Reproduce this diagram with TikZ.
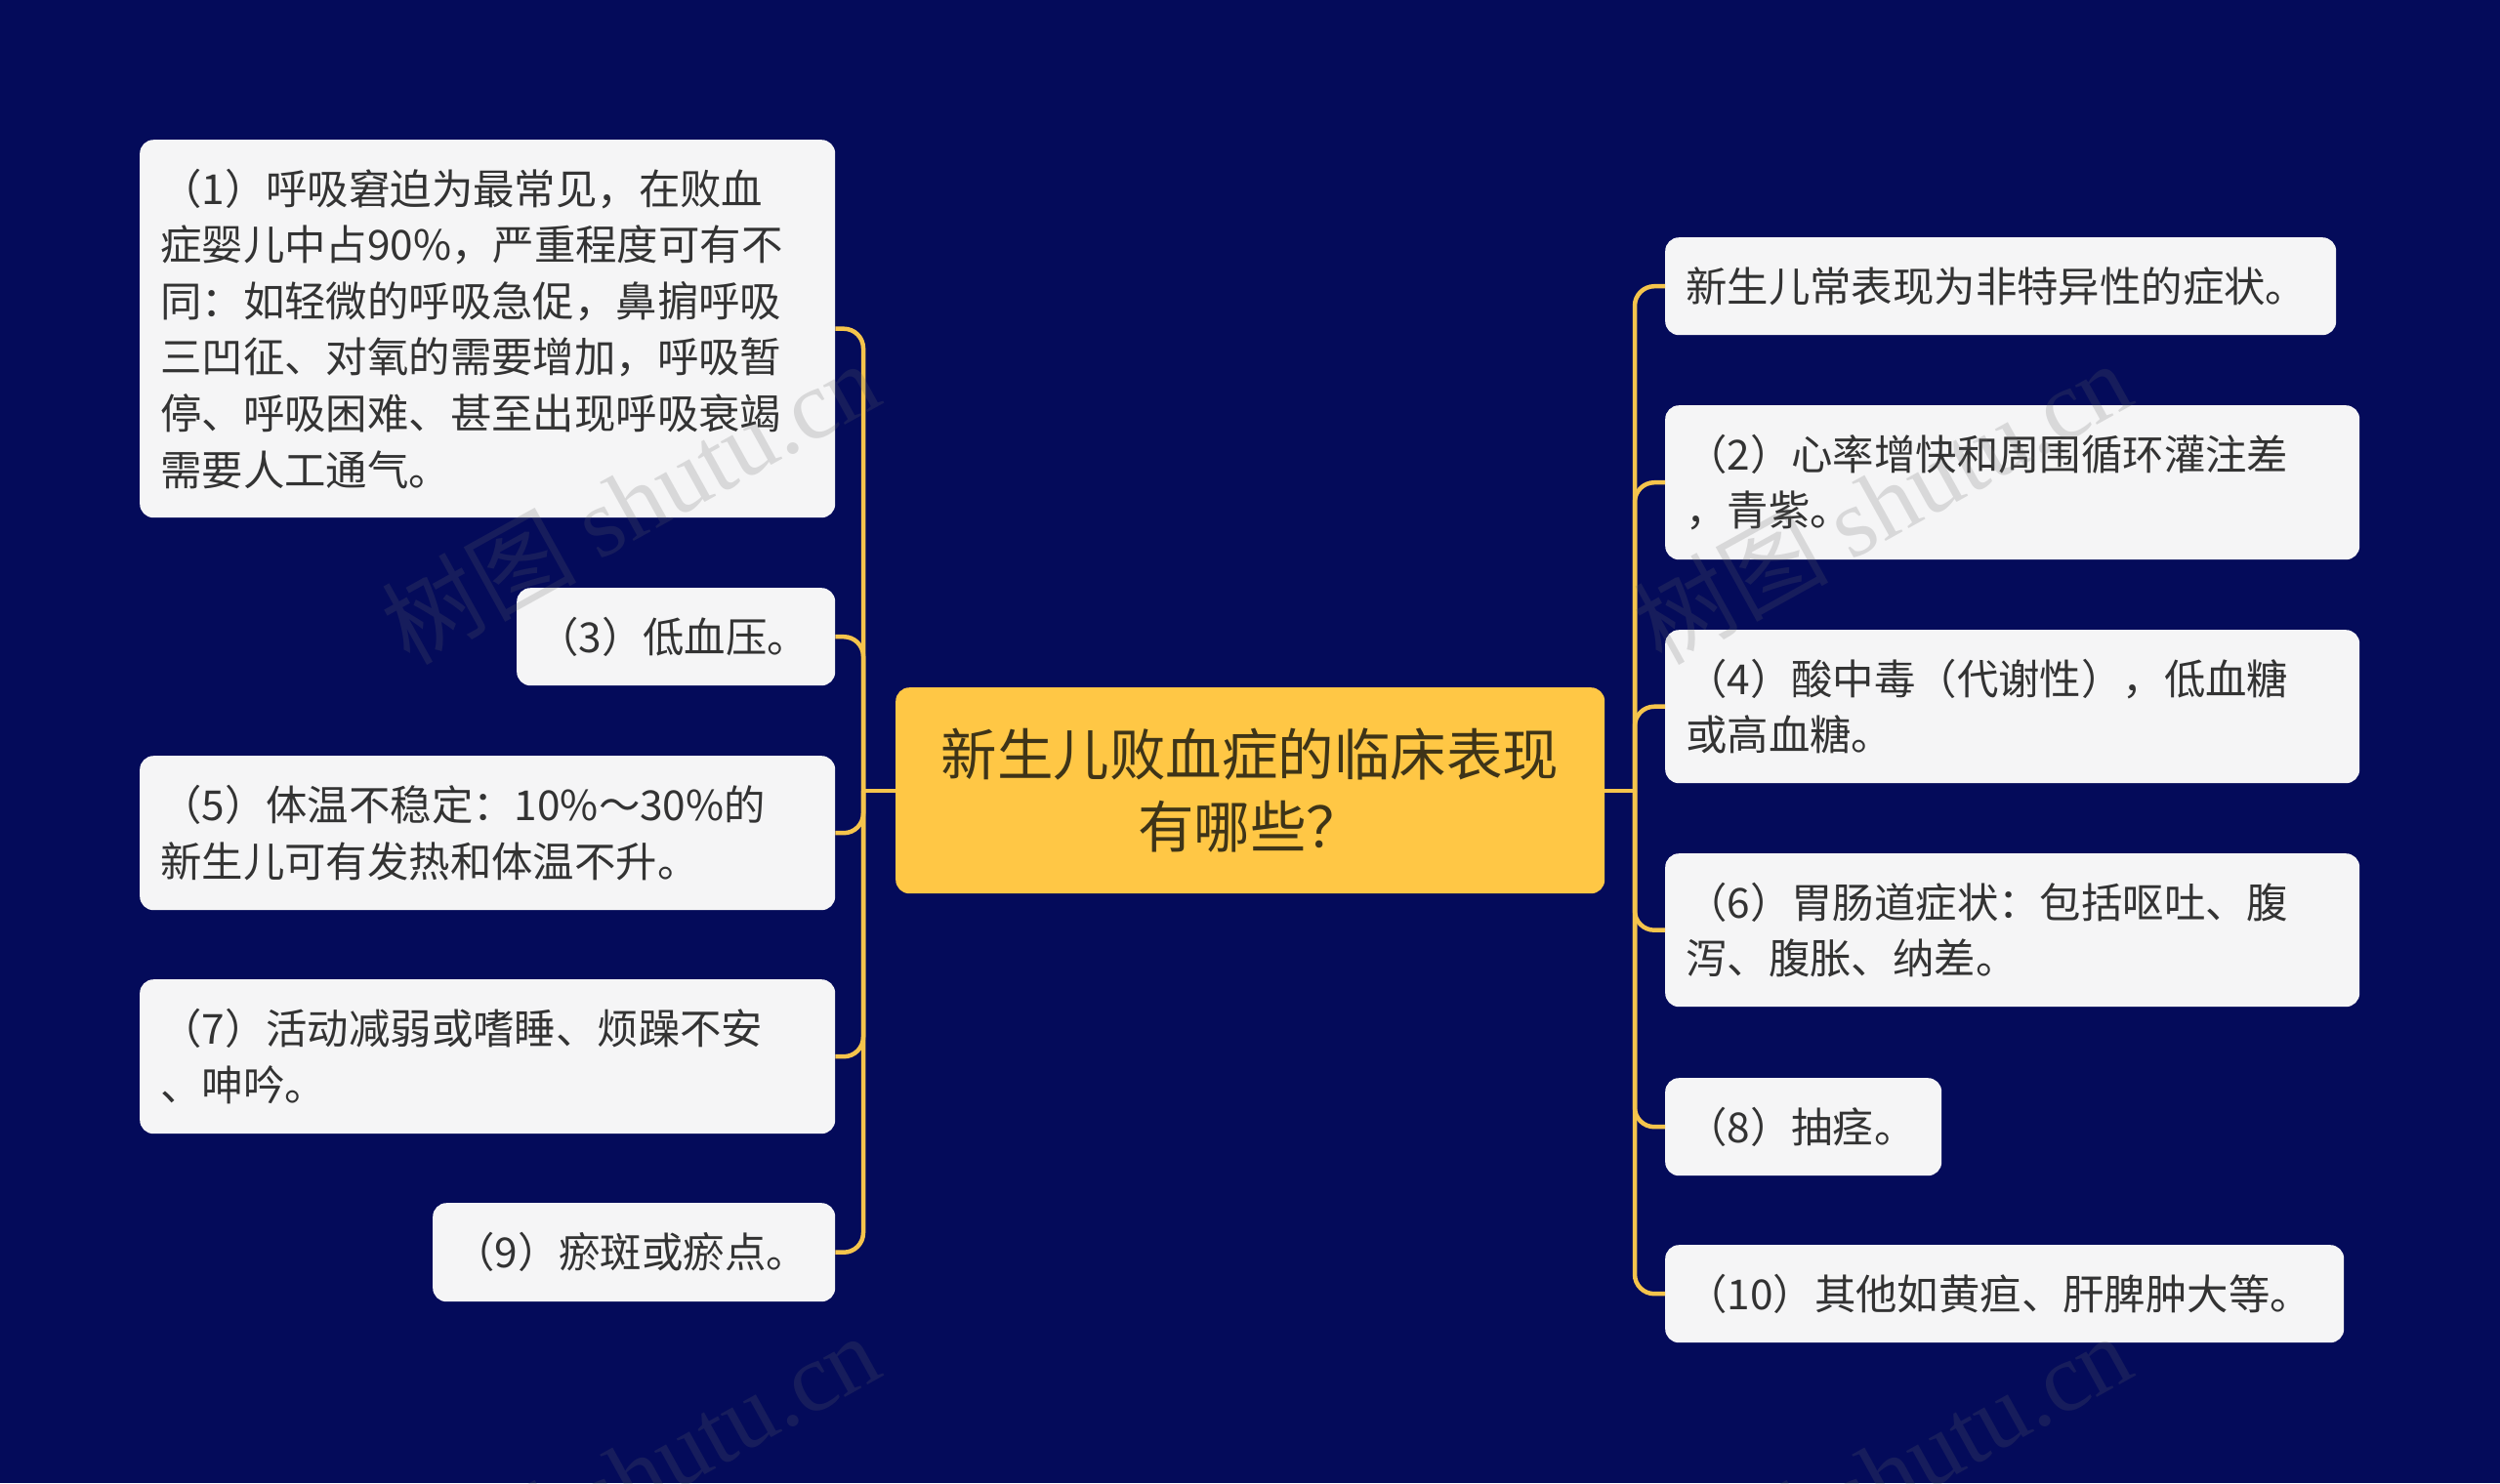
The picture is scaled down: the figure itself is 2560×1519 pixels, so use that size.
\documentclass[tikz,border=0pt]{standalone}
\usepackage{fontspec}
\setmainfont{Noto Sans CJK SC}
\newfontfamily\wmcjk{Noto Sans CJK SC}
\newfontfamily\wmlat{Liberation Serif}
\definecolor{bgblue}{RGB}{4,11,90}
\definecolor{goldline}{RGB}{245,196,76}
\definecolor{goldbox}{RGB}{255,199,69}
\definecolor{leaffill}{RGB}{245,245,246}
\definecolor{inktext}{RGB}{51,51,51}
\definecolor{roottext}{RGB}{62,52,24}
\tikzset{
  leaf/.style 2 args={draw=none,fill=leaffill,rounded corners=14pt,anchor=north west,
    inner xsep=21pt,inner ysep=0pt,text width=#1pt-42pt,minimum width=#1pt,minimum height=#2pt,
    align=left,text=inktext,font=\fontsize{42.4pt}{57.6pt}\selectfont},
  rootbox/.style={fill=goldbox,rounded corners=14pt,anchor=north west,inner sep=0pt,
    minimum width=726pt,minimum height=211pt,text width=680pt,align=center,text=roottext,
    font=\fontsize{57.5pt}{74pt}\selectfont},
  link/.style={draw=goldline,line width=4.5pt,rounded corners=20pt},
  stub/.style={draw=goldline,line width=4.5pt},
  wm/.style={rotate=29,text=black!60,opacity=.2,inner sep=0pt,font=\fontsize{100pt}{110pt}\selectfont}
}
\begin{document}
\begin{tikzpicture}[x=1pt,y=-1pt]
\useasboundingbox (0,0) rectangle (2560,1519);
\fill[bgblue] (0,0) rectangle (2560,1519);
\coordinate (ljoin) at (884,810);
\coordinate (rjoin) at (1674,810);
\node[rootbox] (root) at (917,704) {新生儿败血症的临床表现\\有哪些？};
\node[leaf={712}{387}] (l1) at (143,143) {（1）呼吸窘迫为最常见，在败血\\症婴儿中占90\%，严重程度可有不\\同：如轻微的呼吸急促，鼻掮呼吸\\三凹征、对氧的需要增加，呼吸暂\\停、呼吸困难、甚至出现呼吸衰竭\\需要人工通气。};
\node[leaf={326}{100}] (l3) at (529,602) {（3）低血压。};
\node[leaf={712}{158}] (l5) at (143,774) {（5）体温不稳定：10\%～30\%的\\新生儿可有发热和体温不升。};
\node[leaf={712}{158}] (l7) at (143,1003) {（7）活动减弱或嗜睡、烦躁不安\\、呻吟。};
\node[leaf={412}{101}] (l9) at (443,1232) {（9）瘀斑或瘀点。};
\node[leaf={687}{100}] (r1) at (1705,243) {新生儿常表现为非特异性的症状。};
\node[leaf={711}{158}] (r2) at (1705,415) {（2）心率增快和周围循环灌注差\\，青紫。};
\node[leaf={711}{157}] (r4) at (1705,645) {（4）酸中毒（代谢性），低血糖\\或高血糖。};
\node[leaf={711}{157}] (r6) at (1705,874) {（6）胃肠道症状：包括呕吐、腹\\泻、腹胀、纳差。};
\node[leaf={283}{100}] (r8) at (1705,1104) {（8）抽痉。};
\node[leaf={695}{100}] (r10) at (1705,1275) {（10）其他如黄疸、肝脾肿大等。};
\draw[stub] (root.west |- ljoin) -- (ljoin);
\draw[stub] (root.east |- rjoin) -- (rjoin);
\foreach \n in {l1,l3,l5,l7,l9} \draw[link] (ljoin) |- (\n.east);
\foreach \n in {r1,r2,r4,r6,r8,r10} \draw[link] (rjoin) |- (\n.west);
\begin{scope}
\clip (0,0) rectangle (2560,1519);
\node[wm] (wa) at (645,514) {{\wmcjk 树图} {\wmlat shutu.cn}};
\node[wm] (wb) at (1927,514) {{\wmcjk 树图} {\wmlat shutu.cn}};
\node[wm] (wc) at (645,1510) {{\wmcjk 树图} {\wmlat shutu.cn}};
\node[wm] (wd) at (1927,1510) {{\wmcjk 树图} {\wmlat shutu.cn}};
\end{scope}
\end{tikzpicture}
\end{document}
